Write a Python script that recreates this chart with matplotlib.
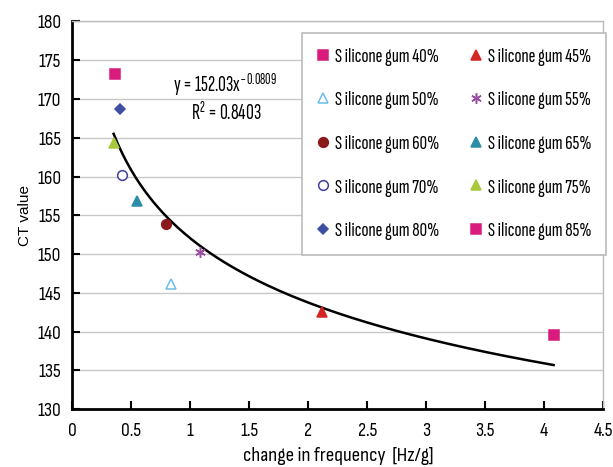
import numpy as np
import matplotlib
matplotlib.use("Agg")
import matplotlib.pyplot as plt

plt.rcParams['font.family'] = ['Sofia Sans Condensed', 'DejaVu Sans']
plt.rcParams['mathtext.fontset'] = 'custom'
plt.rcParams['mathtext.rm'] = 'Sofia Sans Extra Condensed'
plt.rcParams['mathtext.it'] = 'Sofia Sans Extra Condensed'
plt.rcParams['mathtext.bf'] = 'Sofia Sans Extra Condensed'

LEG_FONT = ['Sofia Sans Extra Condensed', 'DejaVu Sans']

labels = ["S ilicone gum 40%", "S ilicone gum 45%", "S ilicone gum 50%", "S ilicone gum 55%",
          "S ilicone gum 60%", "S ilicone gum 65%", "S ilicone gum 70%", "S ilicone gum 75%",
          "S ilicone gum 80%", "S ilicone gum 85%"]
freq_change = [0.36, 2.12, 0.84, 1.08, 0.79, 0.55, 0.42, 0.35, 0.40, 4.08]
ct_value = [173.2, 142.5, 146.2, 150.2, 153.9, 156.9, 160.2, 164.3, 168.7, 139.5]

colors = ["#D81B7C", "#D42424", "#6BBDEB", "#9B4FA3", "#8B1A1A", "#2C8DA6",
          "#3F3F9E", "#A9C83C", "#3C4FA3", "#D81B7C"]
markers = ["s", "^", "^", (6, 2, 0), "o", "^", "o", "^", "D", "s"]
filled = [True, True, False, True, True, True, False, True, True, True]
sizes = [6.7, 7.5, 7.5, 7.5, 7, 7.5, 7, 7.5, 5.6, 6.7]

fit_a = 152.03
fit_b = -0.0809

fig = plt.figure(figsize=(6.13, 4.67), dpi=100)
ax = fig.add_axes([0.118, 0.124, 0.866, 0.83])

handles = []
for i in range(len(labels)):
    face = colors[i] if filled[i] else 'white'
    h, = ax.plot([freq_change[i]], [ct_value[i]], linestyle='none', marker=markers[i],
                 markersize=sizes[i], markerfacecolor=face, markeredgecolor=colors[i],
                 markeredgewidth=1.1, label=labels[i], zorder=3)
    handles.append(h)

xs = np.linspace(min(freq_change), max(freq_change), 200)
ax.plot(xs, fit_a * xs ** fit_b, color='black', linewidth=1.8, zorder=2)

fig.text(225 / 613, 1 - 85 / 467, "y = 152.03x$^{-0.0809}$", ha='center', va='center',
         fontsize=15.5, family=LEG_FONT)
fig.text(226 / 613, 1 - 113 / 467, "R$^{2}$ = 0.8403", ha='center', va='center',
         fontsize=15.5, family=LEG_FONT)

ax.set_xlim(0, 4.5)
ax.set_ylim(130, 180)
ax.set_xticks(np.arange(0, 4.51, 0.5))
ax.set_xticklabels(["0", "0.5", "1", "1.5", "2", "2.5", "3", "3.5", "4", "4.5"])
ax.set_yticks(np.arange(130, 181, 5))
ax.tick_params(direction='in', length=6, width=1.5, labelsize=14)
ax.tick_params(axis='y', pad=8)
ax.tick_params(axis='x', pad=9)
ax.grid(axis='y', color='#C8C8C8', linewidth=1)
ax.set_axisbelow(True)
for s in ['left', 'bottom']:
    ax.spines[s].set_linewidth(2)
    ax.spines[s].set_color('black')
for s in ['top', 'right']:
    ax.spines[s].set_linewidth(1)
    ax.spines[s].set_color('#BBBBBB')

ax.set_xlabel("change in frequency  [Hz/g]", fontsize=15, labelpad=5)
ax.set_ylabel("CT value", fontsize=11, family=['Liberation Sans', 'DejaVu Sans'], labelpad=4)

order = [0, 2, 4, 6, 8, 1, 3, 5, 7, 9]
leg = ax.legend([handles[i] for i in order], [labels[i] for i in order], ncol=2,
                loc='upper right', bbox_to_anchor=(1.005, 0.971), borderaxespad=0,
                prop={'family': LEG_FONT, 'size': 15}, frameon=True, fancybox=False,
                edgecolor='#BBBBBB', framealpha=1, handlelength=0.6, handletextpad=0.25,
                columnspacing=1.5, labelspacing=1.2, borderpad=0.7)
leg.get_frame().set_linewidth(1.2)

fig.savefig("out.png", dpi=100)
